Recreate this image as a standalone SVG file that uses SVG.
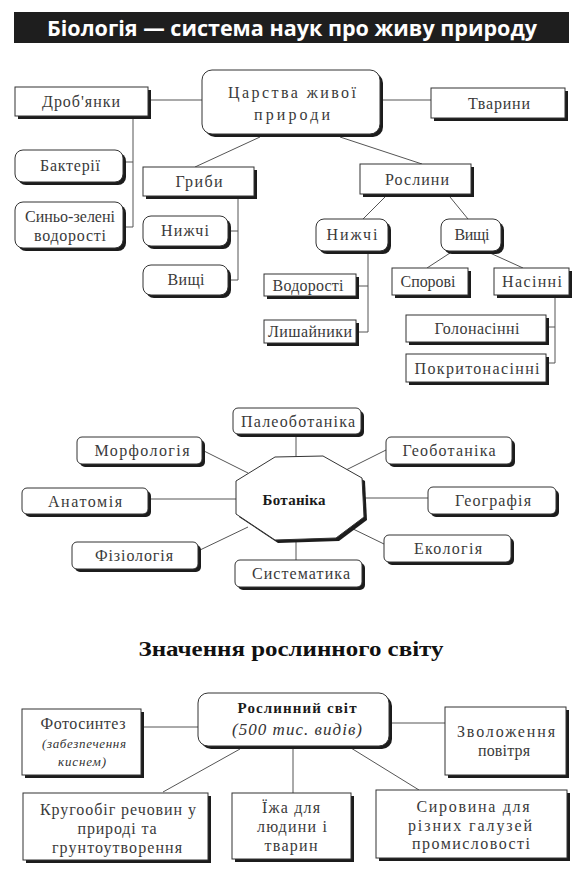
<svg xmlns="http://www.w3.org/2000/svg" width="582" height="876" viewBox="0 0 582 876">
<style>
  .sh { fill: #1c1c1c; }
  .bx { fill: #ffffff; stroke: #333; stroke-width: 1; }
  .t { font-family: "Liberation Serif", "DejaVu Serif", serif; font-size: 16px; fill: #3a3a3a; text-anchor: middle; }
  .tb { font-family: "Liberation Serif", "DejaVu Serif", serif; font-size: 15px; font-weight: bold; fill: #1a1a1a; text-anchor: middle; }
  .ti { font-family: "Liberation Serif", "DejaVu Serif", serif; font-style: italic; fill: #333; text-anchor: middle; }
  .ln { stroke: #555; stroke-width: 1; fill: none; }
</style>
<rect width="582" height="876" fill="#ffffff"/>

<!-- Title -->
<g id="title">
  <rect x="14" y="12" width="555" height="31" fill="#1e1e1e"/>
  <text x="292" y="36" font-family="'Open Sans', 'Liberation Sans', sans-serif" font-weight="bold" font-size="22" fill="#ffffff" text-anchor="middle" textLength="490" lengthAdjust="spacingAndGlyphs">Біологія — система наук про живу природу</text>
</g>

<!-- Connectors -->
<g id="connectors" class="ln">
  <line x1="150" y1="100" x2="202" y2="100"/>
  <line x1="381" y1="100" x2="431" y2="100"/>
  <polyline points="133,118 133,227 124,227"/>
  <line x1="124" y1="162" x2="133" y2="162"/>
  <line x1="260" y1="137" x2="195" y2="167"/>
  <line x1="340" y1="137" x2="422" y2="164"/>
  <polyline points="238,197 238,280 229,280"/>
  <line x1="229" y1="231" x2="238" y2="231"/>
  <line x1="385" y1="197" x2="363" y2="219"/>
  <line x1="450" y1="197" x2="468" y2="219"/>
  <polyline points="368,253 368,332 358,332"/>
  <line x1="358" y1="286" x2="368" y2="286"/>
  <line x1="450" y1="253" x2="427" y2="268"/>
  <line x1="490" y1="253" x2="523" y2="268"/>
  <polyline points="555,296 555,363 548,363"/>
  <line x1="548" y1="327" x2="555" y2="327"/>

  <line x1="296" y1="435" x2="296" y2="457"/>
  <line x1="296" y1="538" x2="296" y2="560"/>
  <line x1="204" y1="451" x2="248" y2="473"/>
  <line x1="150" y1="499" x2="236" y2="499"/>
  <line x1="200" y1="550" x2="248" y2="527"/>
  <line x1="386" y1="450" x2="346" y2="470"/>
  <line x1="364" y1="498" x2="428" y2="498"/>
  <line x1="384" y1="544" x2="349" y2="527"/>

  <line x1="143" y1="727" x2="198" y2="727"/>
  <line x1="391" y1="723" x2="445" y2="723"/>
  <line x1="240" y1="749" x2="163" y2="792"/>
  <line x1="293" y1="748" x2="293" y2="793"/>
  <line x1="351" y1="748" x2="419" y2="790"/>
</g>

<!-- Top section nodes -->
<g id="tsarstva">
  <rect class="sh" x="205" y="73" width="178" height="64" rx="10"/>
  <rect class="bx" x="202" y="70" width="178" height="64" rx="10"/>
  <text class="t" x="292" y="98" font-size="17" fill="#222" textLength="128">Царства живої</text>
  <text class="t" x="292" y="120" font-size="17" fill="#222" textLength="76">природи</text>
</g>
<g id="drobyanky">
  <rect class="sh" x="18" y="90" width="133" height="29"/>
  <rect class="bx" x="15" y="87" width="133" height="29"/>
  <text class="t" x="81" y="107" textLength="78">Дроб'янки</text>
</g>
<g id="tvaryny">
  <rect class="sh" x="434" y="91" width="134" height="30"/>
  <rect class="bx" x="431" y="88" width="134" height="30"/>
  <text class="t" x="499" y="109" textLength="62">Тварини</text>
</g>
<g id="bakterii">
  <rect class="sh" x="18" y="153" width="108" height="32" rx="8"/>
  <rect class="bx" x="15" y="150" width="108" height="32" rx="8"/>
  <text class="t" x="70" y="171" textLength="60">Бактерії</text>
</g>
<g id="synio-zeleni">
  <rect class="sh" x="18" y="205" width="108" height="46" rx="8"/>
  <rect class="bx" x="15" y="202" width="108" height="46" rx="8"/>
  <text class="t" x="70" y="222" textLength="90">Синьо-зелені</text>
  <text class="t" x="70" y="241" textLength="72">водорості</text>
</g>
<g id="hryby">
  <rect class="sh" x="146" y="170" width="111" height="29"/>
  <rect class="bx" x="143" y="167" width="111" height="29"/>
  <text class="t" x="199" y="187" textLength="47">Гриби</text>
</g>
<g id="hryby-nyzhchi">
  <rect class="sh" x="146" y="219" width="85" height="30" rx="8"/>
  <rect class="bx" x="143" y="216" width="85" height="30" rx="8"/>
  <text class="t" x="185" y="236" textLength="48">Нижчі</text>
</g>
<g id="hryby-vyshchi">
  <rect class="sh" x="146" y="268" width="85" height="30" rx="8"/>
  <rect class="bx" x="143" y="265" width="85" height="30" rx="8"/>
  <text class="t" x="186" y="285" textLength="37">Вищі</text>
</g>
<g id="roslyny">
  <rect class="sh" x="363" y="167" width="111" height="30"/>
  <rect class="bx" x="360" y="164" width="111" height="30"/>
  <text class="t" x="417" y="185" textLength="64">Рослини</text>
</g>
<g id="roslyny-nyzhchi">
  <rect class="sh" x="319" y="222" width="72" height="32" rx="8"/>
  <rect class="bx" x="316" y="219" width="72" height="32" rx="8"/>
  <text class="t" x="352" y="240" textLength="51">Нижчі</text>
</g>
<g id="roslyny-vyshchi">
  <rect class="sh" x="444" y="222" width="60" height="32" rx="8"/>
  <rect class="bx" x="441" y="219" width="60" height="32" rx="8"/>
  <text class="t" x="472" y="240" textLength="35">Вищі</text>
</g>
<g id="vodorosti">
  <rect class="sh" x="267" y="277" width="92" height="22"/>
  <rect class="bx" x="264" y="274" width="92" height="22"/>
  <text class="t" x="308" y="291" textLength="71">Водорості</text>
</g>
<g id="lyshainyky">
  <rect class="sh" x="267" y="323" width="92" height="23"/>
  <rect class="bx" x="264" y="320" width="92" height="23"/>
  <text class="t" x="310" y="337" textLength="84">Лишайники</text>
</g>
<g id="sporovi">
  <rect class="sh" x="395" y="271" width="76" height="27"/>
  <rect class="bx" x="392" y="268" width="76" height="27"/>
  <text class="t" x="428" y="287" textLength="55">Спорові</text>
</g>
<g id="nasinni">
  <rect class="sh" x="497" y="271" width="75" height="27"/>
  <rect class="bx" x="494" y="268" width="75" height="27"/>
  <text class="t" x="532" y="287" textLength="60">Насінні</text>
</g>
<g id="holonasinni">
  <rect class="sh" x="409" y="318" width="140" height="27"/>
  <rect class="bx" x="406" y="315" width="140" height="27"/>
  <text class="t" x="477" y="334" textLength="85">Голонасінні</text>
</g>
<g id="pokrytonasinni">
  <rect class="sh" x="409" y="357" width="140" height="28"/>
  <rect class="bx" x="406" y="354" width="140" height="28"/>
  <text class="t" x="477" y="374" textLength="125">Покритонасінні</text>
</g>

<!-- Botany section -->
<g id="botanika">
  <polygon class="sh" points="278,460 326,459 365,481 367,520 339,541 278,543 239,517 239,484"/>
  <polygon class="bx" points="275,457 323,456 362,478 364,517 336,538 275,540 236,514 236,481"/>
  <text class="tb" x="294" y="505" textLength="63">Ботаніка</text>
</g>
<g id="paleobotanika">
  <rect class="sh" x="236" y="411" width="128" height="26" rx="5"/>
  <rect class="bx" x="233" y="408" width="128" height="26" rx="5"/>
  <text class="t" x="298" y="427" textLength="114">Палеоботаніка</text>
</g>
<g id="morfolohiia">
  <rect class="sh" x="80" y="440" width="125" height="27" rx="5"/>
  <rect class="bx" x="77" y="437" width="125" height="27" rx="5"/>
  <text class="t" x="142" y="456" textLength="95">Морфологія</text>
</g>
<g id="heobotanika">
  <rect class="sh" x="389" y="440" width="126" height="27" rx="5"/>
  <rect class="bx" x="386" y="437" width="126" height="27" rx="5"/>
  <text class="t" x="449" y="456" textLength="93">Геоботаніка</text>
</g>
<g id="anatomiia">
  <rect class="sh" x="25" y="491" width="126" height="26" rx="5"/>
  <rect class="bx" x="22" y="488" width="126" height="26" rx="5"/>
  <text class="t" x="85" y="507" textLength="74">Анатомія</text>
</g>
<g id="heohrafiia">
  <rect class="sh" x="431" y="490" width="128" height="27" rx="5"/>
  <rect class="bx" x="428" y="487" width="128" height="27" rx="5"/>
  <text class="t" x="493" y="506" textLength="76">Географія</text>
</g>
<g id="fiziolohiia">
  <rect class="sh" x="75" y="545" width="126" height="27" rx="5"/>
  <rect class="bx" x="72" y="542" width="126" height="27" rx="5"/>
  <text class="t" x="134" y="561" textLength="78">Фізіологія</text>
</g>
<g id="ekolohiia">
  <rect class="sh" x="387" y="538" width="127" height="27" rx="5"/>
  <rect class="bx" x="384" y="535" width="127" height="27" rx="5"/>
  <text class="t" x="448" y="554" textLength="68">Екологія</text>
</g>
<g id="systematyka">
  <rect class="sh" x="238" y="563" width="127" height="27" rx="5"/>
  <rect class="bx" x="235" y="560" width="127" height="27" rx="5"/>
  <text class="t" x="301" y="579" textLength="98">Систематика</text>
</g>

<!-- Heading -->
<text x="291" y="656" font-family="'Liberation Serif', 'DejaVu Serif', serif" font-weight="bold" font-size="21" fill="#111" text-anchor="middle" textLength="305" lengthAdjust="spacingAndGlyphs">Значення рослинного світу</text>

<!-- Bottom section -->
<g id="roslynnyi-svit">
  <rect class="sh" x="201" y="696" width="191" height="53" rx="10"/>
  <rect class="bx" x="198" y="693" width="191" height="53" rx="10" stroke-width="1.5"/>
  <text class="tb" x="297" y="713" font-size="16" textLength="119">Рослинний світ</text>
  <text class="ti" x="297" y="735" font-size="17" textLength="130">(500 тис. видів)</text>
</g>
<g id="fotosyntez">
  <rect class="sh" x="25" y="712" width="119" height="66"/>
  <rect class="bx" x="22" y="709" width="119" height="66"/>
  <text class="t" x="83" y="729" textLength="85">Фотосинтез</text>
  <text class="ti" x="84" y="748" font-size="13" textLength="84">(забезпечення</text>
  <text class="ti" x="82" y="766" font-size="13" textLength="48">киснем)</text>
</g>
<g id="zvolozhennia">
  <rect class="sh" x="448" y="710" width="121" height="68"/>
  <rect class="bx" x="445" y="707" width="121" height="68"/>
  <text class="t" x="506" y="737" textLength="98">Зволоження</text>
  <text class="t" x="504" y="756" textLength="52">повітря</text>
</g>
<g id="kruhoobih">
  <rect class="sh" x="26" y="796" width="185" height="67"/>
  <rect class="bx" x="23" y="793" width="185" height="67"/>
  <text class="t" x="118" y="815" textLength="156">Кругообіг речовин у</text>
  <text class="t" x="117" y="834" textLength="79">природі та</text>
  <text class="t" x="117" y="853" textLength="130">грунтоутворення</text>
</g>
<g id="yizha">
  <rect class="sh" x="235" y="796" width="119" height="66"/>
  <rect class="bx" x="232" y="793" width="119" height="66"/>
  <text class="t" x="291" y="813" textLength="58">Їжа для</text>
  <text class="t" x="292" y="832" textLength="70">людини і</text>
  <text class="t" x="291" y="851" textLength="53">тварин</text>
</g>
<g id="syrovyna">
  <rect class="sh" x="379" y="793" width="191" height="68"/>
  <rect class="bx" x="376" y="790" width="191" height="68"/>
  <text class="t" x="473" y="812" textLength="113">Сировина для</text>
  <text class="t" x="470" y="831" textLength="124">різних галузей</text>
  <text class="t" x="471" y="849" textLength="118">промисловості</text>
</g>
</svg>
